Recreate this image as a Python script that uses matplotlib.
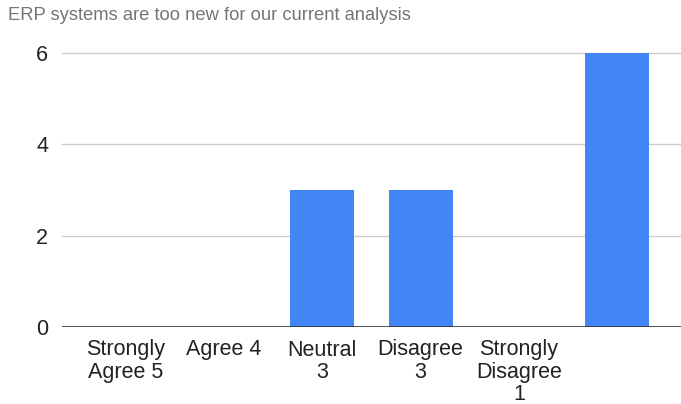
import matplotlib
matplotlib.use("Agg")
import matplotlib.pyplot as plt

title = "ERP systems are too new for our current analysis"
categories = ["Strongly\nAgree 5", "Agree 4", "Neutral\n3", "Disagree\n3", "Strongly\nDisagree\n1", ""]
counts = [0, 0, 3, 3, 0, 6]
y_ticks = [0, 2, 4, 6]

plt.rcParams["font.family"] = ["Liberation Sans", "DejaVu Sans"]

fig = plt.figure(figsize=(6.81, 4.04), dpi=100)
ax = fig.add_axes([62 / 681, 77 / 404, 1 - 62 / 681, (327 - 53) / 404])

x = list(range(len(categories)))
ax.bar(x, counts, width=0.65, color="#4285F4", zorder=3)

ax.set_xlim(-0.65, len(categories) - 1 + 0.65)
ax.set_ylim(0, 6)
ax.set_yticks(y_ticks)
ax.set_yticklabels([str(v) for v in y_ticks], fontsize=15.5, color="#222222")
ax.set_xticks(x)
ax.set_xticklabels(categories, fontsize=15.5, color="#222222", linespacing=1.08)

for v in y_ticks[1:]:
    ax.axhline(v, color="#cccccc", linewidth=1.0, zorder=1, clip_on=False)
ax.axhline(0, color="#333333", linewidth=1.2, zorder=4)

for s in ax.spines.values():
    s.set_visible(False)
ax.tick_params(axis="both", length=0)
ax.tick_params(axis="x", pad=9)
ax.tick_params(axis="y", pad=10)

fig.text(8 / 681, 1 - 16 / 404, title, fontsize=13.2, color="#757575", va="center", ha="left")

fig.savefig("out.png", dpi=100)
